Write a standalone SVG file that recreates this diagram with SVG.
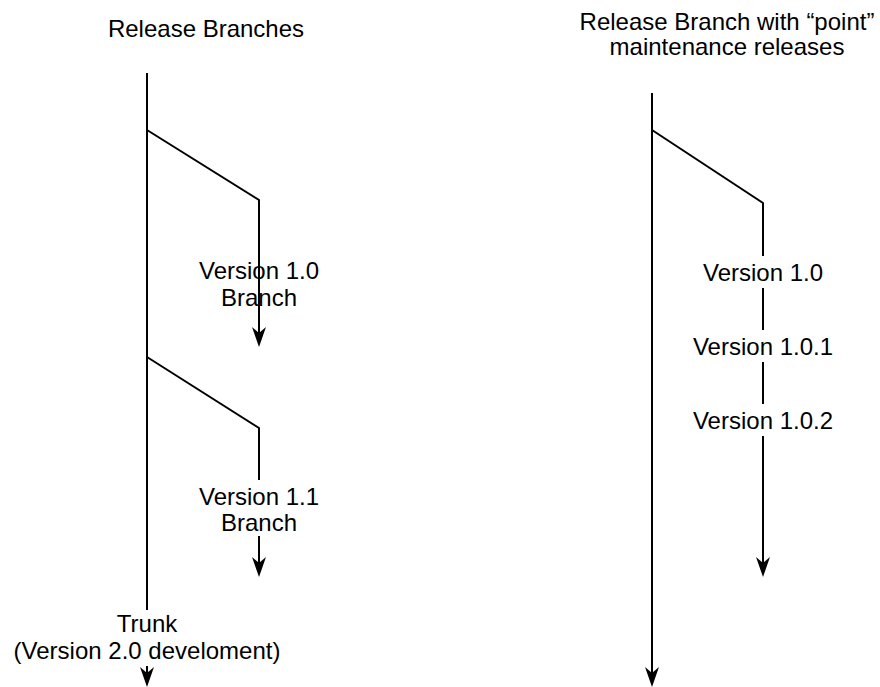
<svg xmlns="http://www.w3.org/2000/svg" width="880" height="687" viewBox="0 0 880 687">
<style>
.t{font-family:"Liberation Sans",Arial,Helvetica,sans-serif;font-size:24px;fill:#000;text-anchor:middle}
.ln{fill:none;stroke:#000;stroke-width:2}
.bg{fill:#fff}
</style>
<defs>
<marker id="arr" markerUnits="userSpaceOnUse" viewBox="-21 -8 22 16" refX="-14" refY="0" markerWidth="22" markerHeight="16" orient="auto">
<path d="M0,0 L-20,-7 L-14,0 L-20,7 Z" fill="#000"/>
</marker>
</defs>
<rect width="880" height="687" fill="#fff"/>
<g id="connectors">
<path class="ln" d="M147,73 L147,673" marker-end="url(#arr)"/>
<path class="ln" d="M147,130 L259,200 L259,333" marker-end="url(#arr)"/>
<path class="ln" d="M147,357 L259,428 L259,563" marker-end="url(#arr)"/>
<path class="ln" d="M652,93 L652,673" marker-end="url(#arr)"/>
<path class="ln" d="M652,130 L763,203 L763,563" marker-end="url(#arr)"/>
</g>
<g id="title-left"><text class="t" x="206" y="37">Release Branches</text></g>
<g id="title-right"><text class="t" x="727" y="30">Release Branch with “point”</text><text class="t" x="727" y="55">maintenance releases</text></g>
<g id="label-v10"><text class="t" x="259" y="279">Version 1.0</text><text class="t" x="259" y="306">Branch</text></g>
<g id="label-v11"><rect class="bg" x="236" y="480" width="46" height="56"/><text class="t" x="259" y="505">Version 1.1</text><text class="t" x="259" y="531">Branch</text></g>
<g id="label-trunk"><rect class="bg" x="124" y="610" width="46" height="56"/><text class="t" x="147" y="632">Trunk</text><text class="t" x="147" y="659">(Version 2.0 develoment)</text></g>
<g id="label-r10"><rect class="bg" x="740" y="256" width="46" height="32"/><text class="t" x="763" y="281">Version 1.0</text></g>
<g id="label-r101"><rect class="bg" x="740" y="330" width="46" height="32"/><text class="t" x="763" y="355">Version 1.0.1</text></g>
<g id="label-r102"><rect class="bg" x="740" y="404" width="46" height="32"/><text class="t" x="763" y="429">Version 1.0.2</text></g>
</svg>
